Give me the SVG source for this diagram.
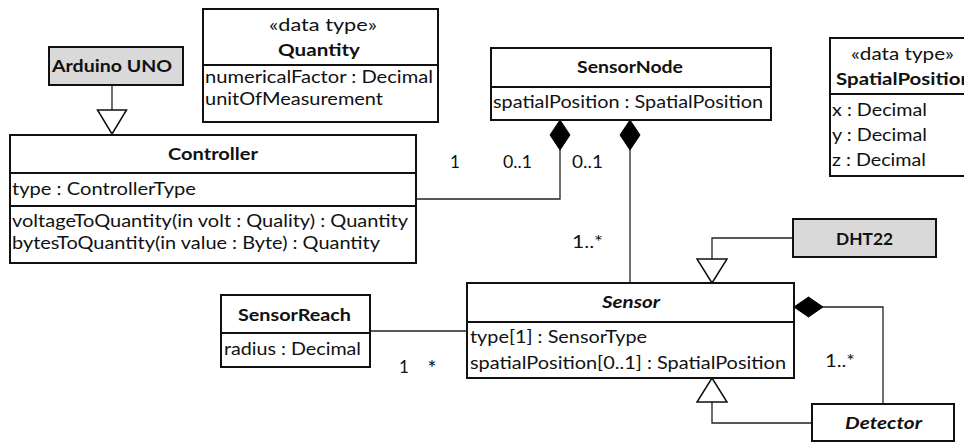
<svg xmlns="http://www.w3.org/2000/svg" width="964" height="442" viewBox="0 0 964 442">
  <style>
    .box { fill: #ffffff; stroke: #111111; stroke-width: 2; }
    .gray { fill: #d9d9d9; stroke: #111111; stroke-width: 2; }
    .div { stroke: #111111; stroke-width: 2; fill: none; }
    .conn { stroke: #222222; stroke-width: 1.3; fill: none; }
    .tri { fill: #ffffff; stroke: #111111; stroke-width: 1.5; }
    .dia { fill: #000000; stroke: #000000; stroke-width: 1; }
    text { font-family: "Lato", "Liberation Sans", sans-serif; font-size: 17px; fill: #111111; }
    .b { font-weight: bold; }
    .bi { font-weight: bold; font-style: italic; }
    .m { text-anchor: middle; }
    .star { font-size: 21px; }
  </style>

  <!-- connectors -->
  <g id="connectors">
    <!-- Arduino UNO generalizes to Controller -->
    <line class="conn" x1="112" y1="85" x2="112" y2="110"/>
    <polygon class="tri" points="97.5,110 126.5,110 112,134"/>
    <!-- SensorNode composite of Controller -->
    <polyline class="conn" points="560,150 560,199 416,199"/>
    <polygon class="dia" points="560,120 570,135 560,150 550,135"/>
    <!-- SensorNode composite of Sensor -->
    <line class="conn" x1="630" y1="150" x2="630" y2="283"/>
    <polygon class="dia" points="630,120 640,135 630,150 620,135"/>
    <!-- DHT22 generalizes to Sensor -->
    <polyline class="conn" points="793,238 712,238 712,259"/>
    <polygon class="tri" points="697,259 727,259 712,283"/>
    <!-- Sensor composite of Detector -->
    <polyline class="conn" points="823,307 883,307 883,404"/>
    <polygon class="dia" points="794,307 808.5,297 823,307 808.5,317"/>
    <!-- Detector generalizes to Sensor -->
    <polyline class="conn" points="812,423 712,423 712,402"/>
    <polygon class="tri" points="697,402 727,402 712,378"/>
    <!-- SensorReach association -->
    <line class="conn" x1="370" y1="331" x2="467" y2="331"/>

    <!-- multiplicities -->
    <text class="m" x="455" y="168">1</text>
    <text x="503" y="168" textLength="29" lengthAdjust="spacingAndGlyphs">0..1</text>
    <text x="572" y="168" textLength="31" lengthAdjust="spacingAndGlyphs">0..1</text>
    <text x="572" y="248" textLength="31" lengthAdjust="spacingAndGlyphs">1..*</text>
    <text x="825" y="367" textLength="30" lengthAdjust="spacingAndGlyphs">1..*</text>
    <text class="m" x="404" y="373">1</text>
    <text class="m star" x="432" y="376">*</text>
  </g>

  <g id="arduino-uno">
    <rect class="gray" x="49" y="47" width="134" height="38"/>
    <text class="b" x="52" y="72" textLength="120" lengthAdjust="spacingAndGlyphs">Arduino UNO</text>
  </g>

  <g id="quantity">
    <rect class="box" x="203" y="9" width="235" height="113"/>
    <line class="div" x1="203" y1="65" x2="438" y2="65"/>
    <text x="269" y="31" textLength="108" lengthAdjust="spacingAndGlyphs">«data type»</text>
    <text class="b" x="278" y="56" textLength="82" lengthAdjust="spacingAndGlyphs">Quantity</text>
    <text x="205" y="83" textLength="228" lengthAdjust="spacingAndGlyphs">numericalFactor : Decimal</text>
    <text x="205" y="105" textLength="178" lengthAdjust="spacingAndGlyphs">unitOfMeasurement</text>
  </g>

  <g id="controller">
    <rect class="box" x="10" y="135" width="406" height="128"/>
    <line class="div" x1="10" y1="173" x2="416" y2="173"/>
    <line class="div" x1="10" y1="206" x2="416" y2="206"/>
    <text class="b" x="168" y="160" textLength="90" lengthAdjust="spacingAndGlyphs">Controller</text>
    <text x="12" y="195" textLength="184" lengthAdjust="spacingAndGlyphs">type : ControllerType</text>
    <text x="12" y="227" textLength="396" lengthAdjust="spacingAndGlyphs">voltageToQuantity(in volt : Quality) : Quantity</text>
    <text x="12" y="249" textLength="368" lengthAdjust="spacingAndGlyphs">bytesToQuantity(in value : Byte) : Quantity</text>
  </g>

  <g id="sensor-node">
    <rect class="box" x="491" y="48" width="280" height="72"/>
    <line class="div" x1="491" y1="87" x2="771" y2="87"/>
    <text class="b" x="577" y="73" textLength="106" lengthAdjust="spacingAndGlyphs">SensorNode</text>
    <text x="493" y="108" textLength="270" lengthAdjust="spacingAndGlyphs">spatialPosition : SpatialPosition</text>
  </g>

  <g id="spatial-position">
    <rect class="box" x="830" y="38" width="150" height="138"/>
    <line class="div" x1="830" y1="94" x2="980" y2="94"/>
    <text x="851" y="60" textLength="103" lengthAdjust="spacingAndGlyphs">«data type»</text>
    <text class="b" x="836" y="85" textLength="136" lengthAdjust="spacingAndGlyphs">SpatialPosition</text>
    <text x="832" y="116" textLength="95" lengthAdjust="spacingAndGlyphs">x : Decimal</text>
    <text x="832" y="141" textLength="95" lengthAdjust="spacingAndGlyphs">y : Decimal</text>
    <text x="832" y="166" textLength="94" lengthAdjust="spacingAndGlyphs">z : Decimal</text>
  </g>

  <g id="dht22">
    <rect class="gray" x="793" y="219" width="143" height="38"/>
    <text class="b" x="836" y="245" textLength="57" lengthAdjust="spacingAndGlyphs">DHT22</text>
  </g>

  <g id="sensor">
    <rect class="box" x="467" y="283" width="327" height="95"/>
    <line class="div" x1="467" y1="322" x2="794" y2="322"/>
    <text class="bi" x="602" y="308" textLength="58" lengthAdjust="spacingAndGlyphs">Sensor</text>
    <text x="470" y="343" textLength="177" lengthAdjust="spacingAndGlyphs">type[1] : SensorType</text>
    <text x="470" y="369" textLength="316" lengthAdjust="spacingAndGlyphs">spatialPosition[0..1] : SpatialPosition</text>
  </g>

  <g id="sensor-reach">
    <rect class="box" x="221" y="295" width="149" height="72"/>
    <line class="div" x1="221" y1="333" x2="370" y2="333"/>
    <text class="b" x="238" y="321" textLength="113" lengthAdjust="spacingAndGlyphs">SensorReach</text>
    <text x="224" y="355" textLength="137" lengthAdjust="spacingAndGlyphs">radius : Decimal</text>
  </g>

  <g id="detector">
    <rect class="box" x="812" y="404" width="142" height="37"/>
    <text class="bi" x="845" y="429" textLength="77" lengthAdjust="spacingAndGlyphs">Detector</text>
  </g>
</svg>
